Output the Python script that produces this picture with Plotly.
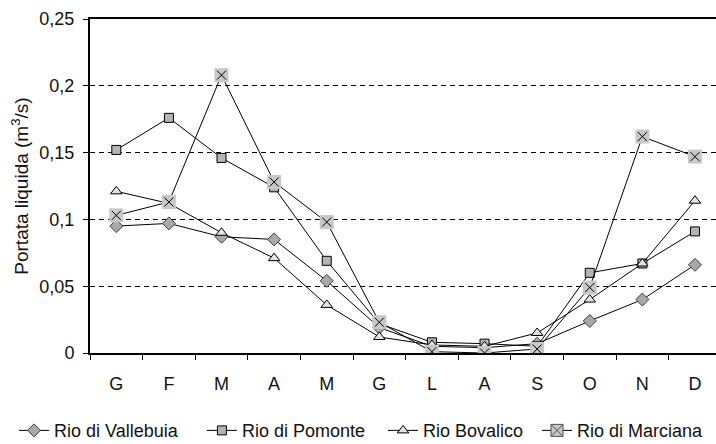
import plotly.graph_objects as go

# Mesi (iniziali) e portate medie mensili (m³/s)
mesi = ["G", "F", "M", "A", "M ", "G ", "L", "A ", "S", "O", "N", "D"]
mesi_etichette = ["G", "F", "M", "A", "M", "G", "L", "A", "S", "O", "N", "D"]

vallebuia = [0.095, 0.097, 0.087, 0.085, 0.054, 0.019, 0.005, 0.004, 0.007, 0.024, 0.040, 0.066]
pomonte   = [0.152, 0.176, 0.146, 0.124, 0.069, 0.022, 0.008, 0.007, 0.005, 0.060, 0.067, 0.091]
bovalico  = [0.121, 0.112, 0.090, 0.071, 0.036, 0.012, 0.006, 0.005, 0.015, 0.040, 0.067, 0.114]
marciana  = [0.103, 0.113, 0.208, 0.128, 0.098, 0.023, 0.001, 0.000, 0.003, 0.049, 0.162, 0.147]

y_ticks = [0, 0.05, 0.1, 0.15, 0.2, 0.25]
y_labels = ["0", "0,05", "0,1", "0,15", "0,2", "0,25"]

FONT = "'Liberation Sans', Arial, sans-serif"
LINE = dict(color="black", width=1)

fig = go.Figure()

fig.add_trace(go.Scatter(
    x=mesi, y=vallebuia, name="Rio di Vallebuia", mode="lines+markers",
    line=LINE, legend="legend",
    marker=dict(symbol="diamond", size=10, color="#a8a8a8",
                line=dict(color="#404040", width=1)),
))
fig.add_trace(go.Scatter(
    x=mesi, y=pomonte, name="Rio di Pomonte", mode="lines+markers",
    line=LINE, legend="legend2",
    marker=dict(symbol="square", size=9, color="#b4b4b4",
                line=dict(color="black", width=1)),
))
fig.add_trace(go.Scatter(
    x=mesi, y=bovalico, name="Rio Bovalico", mode="lines+markers",
    line=LINE, legend="legend3",
    marker=dict(symbol="triangle-up", size=10, color="#e4e4e4",
                line=dict(color="black", width=1)),
))
# Rio di Marciana: croce su quadrato grigio
fig.add_trace(go.Scatter(
    x=mesi, y=marciana, name="Rio di Marciana", mode="lines+markers",
    line=LINE, legendgroup="marciana", showlegend=False,
    marker=dict(symbol="square", size=14, color="#c8c8c8",
                line=dict(width=0)),
))
fig.add_trace(go.Scatter(
    x=mesi, y=marciana, name="Rio di Marciana", mode="markers",
    legendgroup="marciana", showlegend=False,
    marker=dict(symbol="x-thin", size=9, color="black",
                line=dict(color="black", width=1)),
))
# voce di legenda per Rio di Marciana
fig.add_trace(go.Scatter(
    x=[None], y=[None], name="Rio di Marciana", mode="lines+markers",
    line=LINE, legendgroup="marciana", legend="legend4",
    marker=dict(symbol="square-x", size=12, color="#c8c8c8",
                line=dict(color="#505050", width=1)),
))

# una legenda per voce, affiancate in basso
legend_x = [0.0196, 0.282, 0.535, 0.75]
legend_style = dict(
    orientation="h", xref="container", xanchor="left",
    yref="container", y=0.03, yanchor="middle",
    font=dict(size=18), bgcolor="rgba(0,0,0,0)", itemwidth=30,
)

fig.update_layout(
    width=716, height=444,
    margin=dict(l=90, r=0, t=19, b=91, autoexpand=False),
    paper_bgcolor="white", plot_bgcolor="white",
    font=dict(family=FONT, size=18, color="#111111"),
    showlegend=True,
    legend=dict(x=legend_x[0], **legend_style),
    legend2=dict(x=legend_x[1], **legend_style),
    legend3=dict(x=legend_x[2], **legend_style),
    legend4=dict(x=legend_x[3], **legend_style),
)

fig.update_xaxes(
    type="category", categoryorder="array", categoryarray=mesi,
    tickvals=mesi, ticktext=mesi_etichette,
    range=[-0.5, 11.4], automargin=False,
    tickson="boundaries", ticks="outside", ticklen=5, tickcolor="black",
    showline=True, linecolor="black", linewidth=2, mirror=True,
    showgrid=False, zeroline=False,
    ticklabelstandoff=13,
)

fig.update_yaxes(
    range=[0, 0.25], tickvals=y_ticks, ticktext=y_labels, automargin=False,
    ticks="outside", ticklen=5, tickcolor="black",
    showline=True, linecolor="black", linewidth=2,
    showgrid=True, gridcolor="black", gridwidth=1, griddash="5px,4px",
    zeroline=False,
    ticklabelstandoff=5,
    title=dict(text="Portata liquida (m<sup>3</sup>/s)", standoff=6,
               font=dict(size=19)),
)

fig.write_html("out.html")
